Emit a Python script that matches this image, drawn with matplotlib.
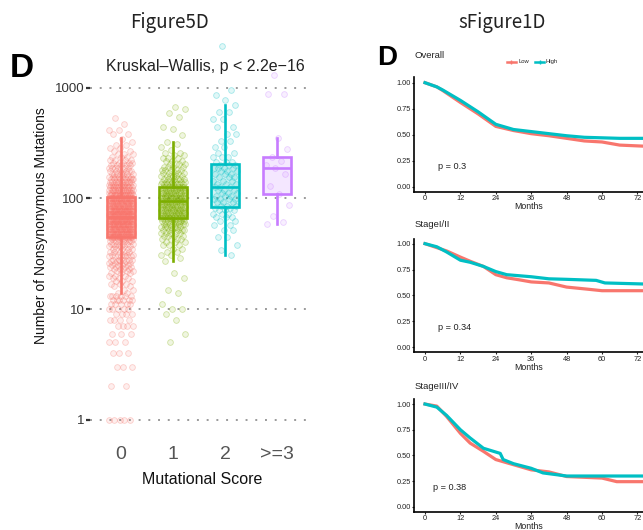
import matplotlib
matplotlib.use('Agg')
import matplotlib.pyplot as plt
from matplotlib.lines import Line2D
from matplotlib.ticker import FixedLocator, FixedFormatter, NullLocator

W, H = 643, 530
fig = plt.figure(figsize=(W / 100, H / 100), dpi=100)
plt.rcParams['font.family'] = ['Liberation Sans', 'DejaVu Sans']


def fx(x):
    return x / W


def fy(y):
    return 1 - y / H


# ---------------- data: left panel ----------------
categories = ['0', '1', '2', '>=3']
colors = ['#F8766D', '#7CAE00', '#00BFC4', '#C77CFF']
box_q1 = [45, 66, 84, 110]
box_med = [68, 94, 128, 188]
box_q3 = [104, 128, 206, 237]
box_lo = [14, 27, 31, 59]
box_hi = [352, 327, 701, 352]

g0_values = [1, 2, 3, 4, 5, 6, 7, 8, 9, 10, 11, 12, 13,
             14, 15, 16, 17, 18, 19, 20, 21, 22, 23, 24, 25, 26, 27, 28, 30, 31, 33, 35, 37, 39, 41, 43,
             45, 48, 50, 53, 56, 59, 62, 65,
             69, 73, 77, 81, 86, 91, 96, 101,
             107, 113, 119, 126, 133, 141, 149, 158, 167, 177, 188, 199, 211, 224, 238, 253, 269, 286, 305, 325, 346,
             380, 420, 470, 540]
g0_counts = [5, 2, 3, 3, 3, 3, 4, 4, 4, 5, 5, 6, 6,
             2, 2, 2, 3, 3, 3, 3, 3, 3, 4, 4, 4, 4, 4, 5, 5, 5, 5, 5, 6, 6, 6, 6,
             17, 18, 19, 19, 19, 19, 20, 19,
             20, 20, 19, 19, 19, 18, 18, 17,
             15, 14, 13, 12, 11, 10, 9, 8, 7, 7, 6, 5, 5, 4, 3, 3, 2, 2, 2, 1, 1,
             2, 2, 1, 1]

g1_values = [5, 6, 8, 9, 10, 11, 14, 15, 19, 21,
             27, 29, 31, 33, 35, 38, 40, 43, 46, 49, 52, 55, 59, 63,
             66, 70, 74, 79, 84, 89,
             94, 100, 106, 112, 119, 126,
             134, 142, 151, 160, 170, 181, 192, 204, 217, 231, 245, 260, 276, 293, 310, 327,
             377, 424, 448, 546, 594, 650, 671]
g1_counts = [1, 1, 1, 1, 2, 1, 1, 1, 1, 1,
             1, 1, 2, 2, 2, 3, 3, 4, 4, 5, 6, 7, 8, 9,
             10, 10, 11, 11, 10, 10,
             11, 11, 10, 10, 10, 9,
             8, 7, 6, 6, 5, 5, 4, 4, 3, 3, 2, 2, 1, 1, 1, 1,
             1, 1, 1, 1, 1, 1, 1]

g2_values = [31, 34, 38, 45, 52, 58, 63, 68, 73, 78, 82,
             86, 92, 98, 105, 112, 120, 127,
             135, 145, 155, 165, 176, 188, 200,
             215, 235, 260, 290, 330, 380, 440, 520, 610, 701,
             781, 867, 963, 2400]
g2_counts = [1, 1, 1, 2, 2, 2, 2, 3, 3, 3, 2,
             3, 3, 4, 3, 3, 3, 3,
             3, 3, 3, 3, 3, 4, 3,
             3, 3, 2, 2, 2, 2, 2, 2, 2, 1,
             1, 1, 1, 1]

g3_values = [59, 61, 69, 88, 110, 130, 165, 188, 200, 220, 237, 280, 352, 885, 1320]
g3_counts = [1, 1, 1, 1, 1, 1, 1, 1, 1, 1, 1, 1, 1, 2, 1]

group_values = [g0_values, g1_values, g2_values, g3_values]
group_counts = [g0_counts, g1_counts, g2_counts, g3_counts]
y_ticks = [1, 10, 100, 1000]
y_ticklabels = ['1', '10', '100', '1000']

# ---------------- data: KM panels ----------------
km_titles = ['Overall', 'StageI/II', 'StageIII/IV']
km_pvals = ['p = 0.3', 'p = 0.34', 'p = 0.38']
km_p_x = [4.5, 4.5, 2.8]
km_p_y = [0.19, 0.187, 0.188]

overall_low_t = [0, 4, 6, 12, 18, 24, 30, 36, 42, 48, 54, 60, 66, 74]
overall_low_s = [1.0, 0.96, 0.925, 0.81, 0.70, 0.58, 0.54, 0.51, 0.49, 0.465, 0.44, 0.43, 0.40, 0.39]
overall_high_t = [0, 4, 6, 12, 18, 24, 30, 36, 42, 48, 54, 60, 66, 74]
overall_high_s = [1.0, 0.96, 0.93, 0.83, 0.72, 0.60, 0.55, 0.53, 0.51, 0.49, 0.475, 0.47, 0.465, 0.465]

s12_low_t = [0, 7.3, 12, 15.3, 19.8, 24, 27.7, 32, 36, 42, 48, 55, 60, 74]
s12_low_s = [1.0, 0.93, 0.87, 0.83, 0.78, 0.70, 0.67, 0.65, 0.63, 0.62, 0.58, 0.56, 0.545, 0.545]
s12_high_t = [0, 4, 7.3, 12, 15.3, 19.8, 24, 27.7, 36, 42, 48, 58, 61, 74]
s12_high_s = [1.0, 0.97, 0.92, 0.84, 0.82, 0.78, 0.73, 0.70, 0.68, 0.66, 0.655, 0.645, 0.62, 0.61]

s34_low_t = [0, 4, 7.3, 12, 15.3, 19.8, 24, 30, 36, 42, 48, 60, 65, 74]
s34_low_s = [1.0, 0.98, 0.88, 0.715, 0.62, 0.54, 0.46, 0.41, 0.36, 0.34, 0.295, 0.28, 0.245, 0.245]
s34_high_t = [0, 4, 7.3, 12, 15.3, 19.8, 25.5, 26.5, 30, 36, 40, 48, 55, 74]
s34_high_s = [1.0, 0.97, 0.89, 0.75, 0.67, 0.57, 0.52, 0.46, 0.42, 0.375, 0.33, 0.30, 0.30, 0.30]

km_low = [(overall_low_t, overall_low_s), (s12_low_t, s12_low_s), (s34_low_t, s34_low_s)]
km_high = [(overall_high_t, overall_high_s), (s12_high_t, s12_high_s), (s34_high_t, s34_high_s)]
km_xticks = [0, 12, 24, 36, 48, 60, 72]
km_yticks = [0, 0.25, 0.5, 0.75, 1.0]
km_yticklabels = ['0.00', '0.25', '0.50', '0.75', '1.00']
low_color = '#F8766D'
high_color = '#00BFC4'

# ---------------- headers ----------------
fig.text(fx(169), fy(28), 'Figure5D', fontsize=13.5, family=['Noto Sans CJK SC', 'DejaVu Sans'],
         ha='center', va='baseline', color='#222222')
fig.text(fx(502), fy(28), 'sFigure1D', fontsize=13.5, family=['Noto Sans CJK SC', 'DejaVu Sans'],
         ha='center', va='baseline', color='#222222')

# ---------------- left panel ----------------
axL = fig.add_axes([fx(90), fy(438), (308 - 90) / W, (438 - 38) / H])
axL.set_yscale('log')
axL.set_xlim(-0.596, 3.596)
axL.set_ylim(10 ** -0.167, 10 ** 3.452)

for gi, (vals, cnts) in enumerate(zip(group_values, group_counts)):
    xs, ys = [], []
    k = 0
    for v, c in zip(vals, cnts):
        for _ in range(c):
            off = ((k * 0.6180339887 + gi * 0.37) % 1.0 - 0.5) * 0.48
            xs.append(gi + off)
            ys.append(v)
            k += 1
    col = colors[gi]
    axL.scatter(xs, ys, s=17, facecolor=matplotlib.colors.to_rgba(col, 0.12),
                edgecolor=matplotlib.colors.to_rgba(col, 0.32), linewidth=0.6, zorder=2)

stats = []
for i in range(4):
    stats.append(dict(med=box_med[i], q1=box_q1[i], q3=box_q3[i],
                      whislo=box_lo[i], whishi=box_hi[i], fliers=[]))
bp = axL.bxp(stats, positions=range(4), widths=0.54, patch_artist=True,
             showcaps=False, showfliers=False, manage_ticks=False)
for i in range(4):
    col = colors[i]
    bp['boxes'][i].set_facecolor(matplotlib.colors.to_rgba(col, 0.18))
    bp['boxes'][i].set_edgecolor(col)
    bp['boxes'][i].set_linewidth(1.9)
    bp['boxes'][i].set_zorder(3)
    bp['medians'][i].set_color(col)
    bp['medians'][i].set_linewidth(1.9)
    bp['medians'][i].set_zorder(4)
    for w in bp['whiskers'][2 * i:2 * i + 2]:
        w.set_color(col)
        w.set_linewidth(1.9)
        w.set_zorder(3)

axL.yaxis.set_major_locator(FixedLocator(y_ticks))
axL.yaxis.set_major_formatter(FixedFormatter(y_ticklabels))
axL.yaxis.set_minor_locator(NullLocator())
axL.set_xticks(range(4))
axL.set_xticklabels(categories)
axL.tick_params(axis='x', length=0, labelsize=14, labelcolor='#555555', pad=6)
axL.tick_params(axis='y', length=3, width=1.6, color='#333333', labelsize=9.5,
                labelcolor='#333333', pad=1)
for s in axL.spines.values():
    s.set_visible(False)
axL.yaxis.grid(True, which='major', color='#9a9a9a', linestyle=(0, (1, 4)), linewidth=1.4)
axL.set_axisbelow(True)

fig.text(fx(205), fy(71), 'Kruskal\u2013Wallis, p < 2.2e\u221216', fontsize=11.5,
         ha='center', va='baseline', color='#222222')
fig.text(fx(10), fy(77), 'D', fontsize=24, fontweight='bold', ha='left', va='baseline', color='black')
fig.text(fx(202), fy(480), 'Mutational Score', fontsize=11.5, ha='center', va='center', color='#111111')
fig.text(fx(41), fy(226), 'Number of Nonsynonymous Mutations', fontsize=10, rotation=90,
         ha='center', va='center', color='#111111')

# ---------------- right KM panels ----------------
km_rects = [(191.9, 77.5), (352.2, 238.5), (512.0, 398.9)]
title_base = [58, 227, 389]
x_left_px = 414.3
x0_px = 425.0
px_per_month = 35.4 / 12
xmin = -(x0_px - x_left_px) / px_per_month
xmax = (643 - x0_px) / px_per_month

for pi in range(3):
    yb, yt = km_rects[pi]
    ax = fig.add_axes([fx(x_left_px), fy(yb), (643 - x_left_px) / W, (yb - yt) / H])
    ax.set_xlim(xmin, xmax)
    ax.set_ylim(-0.05, 1.05)
    t, s = km_low[pi]
    ax.plot(t, s, color=low_color, linewidth=2.3, solid_joinstyle='round', zorder=3)
    t, s = km_high[pi]
    ax.plot(t, s, color=high_color, linewidth=2.3, solid_joinstyle='round', zorder=4)
    ax.set_xticks(km_xticks)
    ax.set_yticks(km_yticks)
    ax.set_yticklabels(km_yticklabels)
    ax.tick_params(length=1.6, width=0.8, labelsize=5.3, pad=0.8, colors='#222222')
    for side in ['top', 'right']:
        ax.spines[side].set_visible(False)
    for side in ['left', 'bottom']:
        ax.spines[side].set_linewidth(1.2)
        ax.spines[side].set_color('black')
    ax.set_xlabel('Months', fontsize=6.3, labelpad=0.1, color='#222222')
    ax.text(km_p_x[pi], km_p_y[pi], km_pvals[pi], fontsize=6.6, ha='left', va='center', color='#222222')
    fig.text(fx(415), fy(title_base[pi]), km_titles[pi], fontsize=6.8, ha='left', va='baseline',
             color='#222222')

fig.text(fx(377), fy(65), 'D', fontsize=20, fontweight='bold', ha='left', va='baseline', color='black')

# legend (Low / High)
fig.add_artist(Line2D([fx(507), fx(516)], [fy(61.5), fy(61.5)], color=low_color, linewidth=1.8))
fig.add_artist(Line2D([fx(511.5)], [fy(61.5)], marker='+', markersize=3, color=low_color, linewidth=0))
fig.text(fx(518.5), fy(61.5), 'Low', fontsize=4.2, ha='left', va='center', color='#222222')
fig.add_artist(Line2D([fx(535), fx(544)], [fy(61.5), fy(61.5)], color=high_color, linewidth=1.8))
fig.add_artist(Line2D([fx(539.5)], [fy(61.5)], marker='+', markersize=3, color=high_color, linewidth=0))
fig.text(fx(546), fy(61.5), 'High', fontsize=4.2, ha='left', va='center', color='#222222')

fig.savefig('out.png', dpi=100, facecolor='white')
